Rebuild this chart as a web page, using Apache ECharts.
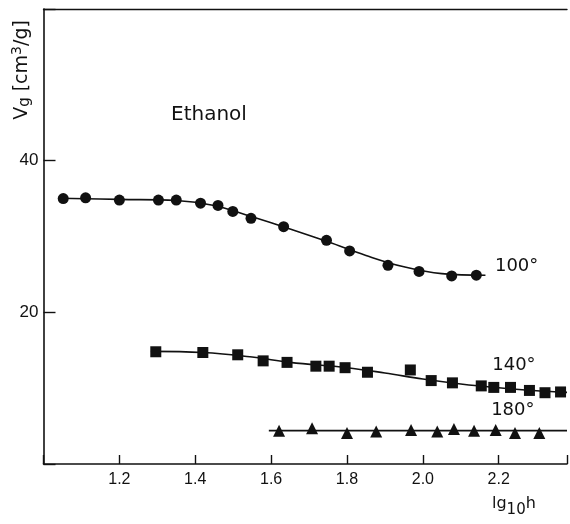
<!DOCTYPE html>
<html>
<head>
<meta charset="utf-8">
<script src="https://cdn.jsdelivr.net/npm/echarts@6/dist/echarts.min.js"></script>
<style>
  html, body { margin: 0; padding: 0; background: #fff; }
  #chart { width: 570px; height: 524px; }
</style>
</head>
<body>
<div id="chart"></div>
<script>
// Retention volume of ethanol vs. log10 of column height, three temperatures
const xTicks = [1.2, 1.4, 1.6, 1.8, 2.0, 2.2];
const yTicks = [20, 40];

// Measured points [lg10 h, Vg]
const pts100 = [
  [1.052, 35.0], [1.111, 35.1], [1.200, 34.8], [1.303, 34.8], [1.350, 34.8],
  [1.414, 34.4], [1.460, 34.1], [1.499, 33.3], [1.547, 32.4], [1.633, 31.3],
  [1.746, 29.5], [1.807, 28.1], [1.908, 26.2], [1.990, 25.4], [2.076, 24.8],
  [2.141, 24.9]
];
const pts140 = [
  [1.296, 14.8], [1.420, 14.7], [1.512, 14.4], [1.579, 13.6], [1.642, 13.4],
  [1.718, 12.9], [1.753, 12.9], [1.795, 12.7], [1.854, 12.1], [1.967, 12.4],
  [2.022, 11.0], [2.078, 10.7], [2.154, 10.3], [2.187, 10.1], [2.231, 10.1],
  [2.281, 9.7], [2.322, 9.4], [2.363, 9.5]
];
const pts180 = [
  [1.621, 4.4], [1.708, 4.7], [1.800, 4.1], [1.877, 4.3], [1.969, 4.5],
  [2.038, 4.3], [2.082, 4.6], [2.135, 4.4], [2.192, 4.5], [2.243, 4.1],
  [2.307, 4.1]
];

// Hand-drawn smooth curves through each set
const curve100 = [
  [1.04, 35.05], [1.20, 34.9], [1.35, 34.75], [1.45, 34.1], [1.55, 32.6],
  [1.65, 31.0], [1.75, 29.3], [1.85, 27.5], [1.95, 26.0], [2.05, 25.1], [2.165, 24.9]
];
const curve140 = [
  [1.283, 14.85], [1.42, 14.7], [1.55, 14.1], [1.65, 13.4], [1.80, 12.7],
  [1.90, 12.0], [2.00, 11.2], [2.10, 10.55], [2.20, 10.05], [2.30, 9.65], [2.38, 9.45]
];
const curve180 = [[1.594, 4.4], [2.38, 4.4]];

const seriesLabels = [
  { text: '100°', at: [2.19, 26.1] },
  { text: '140°', at: [2.183, 13.06] },
  { text: '180°', at: [2.18, 7.03] }
];

const SANS = '"Liberation Sans", "DejaVu Sans", sans-serif';
const WIDE = '"DejaVu Sans", sans-serif';
const INK = '#111';

const chart = echarts.init(document.getElementById('chart'));

function curve(data) {
  return {
    type: 'line', data, smooth: 0.4, symbol: 'none', silent: true,
    lineStyle: { color: INK, width: 1.6 }, z: 2
  };
}
function marks(data, symbol, size) {
  return {
    type: 'scatter', data, symbol, symbolSize: size, silent: true,
    itemStyle: { color: INK, opacity: 1 }, z: 3
  };
}

chart.setOption({
  animation: false,
  backgroundColor: '#fff',
  grid: { left: 43.5, top: 9, right: -2, bottom: 60 },
  xAxis: [{
    type: 'value', min: 1.0, max: 2.38, interval: 0.2,
    axisLine: { show: true, lineStyle: { color: INK, width: 1.6 } },
    axisTick: { show: true, inside: true, length: 9, lineStyle: { color: INK, width: 1.4 } },
    splitLine: { show: false },
    axisLabel: {
      color: INK, fontFamily: SANS, fontSize: 16, margin: 8,
      formatter: v => xTicks.some(t => Math.abs(t - v) < 1e-6) ? v.toFixed(1) : ''
    }
  }, {
    type: 'value', position: 'top', min: 1.0, max: 2.38,
    axisLine: { show: true, lineStyle: { color: INK, width: 1.4 } },
    axisTick: { show: false }, axisLabel: { show: false }, splitLine: { show: false }
  }],
  yAxis: {
    type: 'value', min: 0, max: 60, interval: 20,
    axisLine: { show: true, lineStyle: { color: INK, width: 1.6 } },
    axisTick: { show: true, inside: true, length: 12, lineStyle: { color: INK, width: 1.4 } },
    splitLine: { show: false },
    axisLabel: {
      color: INK, fontFamily: SANS, fontSize: 17, margin: 5,
      formatter: v => yTicks.includes(v) ? String(v) : ''
    }
  },
  series: [
    curve(curve100), curve(curve140), curve(curve180),
    marks(pts100, 'circle', 11),
    marks(pts140, 'rect', 11),
    marks(pts180, 'triangle', 12),
    {
      type: 'scatter', symbolSize: 0, silent: true,
      itemStyle: { opacity: 1 },
      data: seriesLabels.map(l => ({ value: l.at, name: l.text })),
      label: {
        show: true, position: 'right', distance: 0,
        formatter: p => p.name, color: INK, fontFamily: WIDE, fontSize: 18
      }
    }
  ],
  graphic: [
    {
      type: 'text', left: 171, top: 105,
      style: { text: 'Ethanol', font: '20px ' + WIDE, fill: INK }
    },
    {
      type: 'text', x: 22, y: 70, rotation: Math.PI / 2,
      style: {
        text: '{b|V}{s|g}{b| [cm}{p|3}{b|/g]}',
        align: 'center', verticalAlign: 'middle',
        rich: {
          b: { font: '19px ' + WIDE, fill: INK },
          s: { font: '15px ' + WIDE, fill: INK, padding: [7, 0, 0, 0] },
          p: { font: '14px ' + WIDE, fill: INK, padding: [0, 0, 9, 0] }
        }
      }
    },
    {
      type: 'text', left: 492, top: 496,
      style: {
        text: '{b|lg}{s|10}{b|h}',
        rich: {
          b: { font: '16px ' + WIDE, fill: INK, padding: [0, 0, 6, 0] },
          s: { font: '15px ' + WIDE, fill: INK, padding: [7, 0, 0, 0] }
        }
      }
    }
  ]
});
</script>
</body>
</html>
